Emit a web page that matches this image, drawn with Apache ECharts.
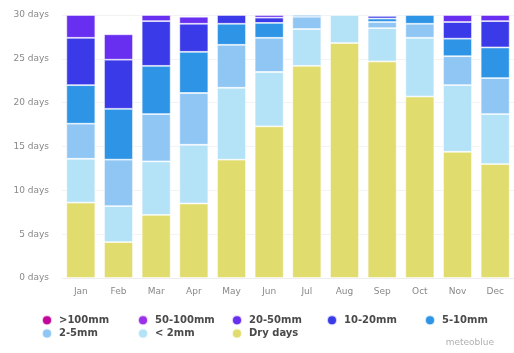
<!DOCTYPE html>
<html>
<head>
<meta charset="utf-8">
<script src="https://cdn.jsdelivr.net/npm/echarts@6/dist/echarts.min.js"></script>
<style>
  html, body { margin: 0; padding: 0; background: #ffffff; }
  #chart { width: 514px; height: 353px; }
</style>
</head>
<body>
<div id="chart"></div>
<script>
// Precipitation days per month, split by daily amount
const months = ['Jan', 'Feb', 'Mar', 'Apr', 'May', 'Jun', 'Jul', 'Aug', 'Sep', 'Oct', 'Nov', 'Dec'];

const dryDays   = [8.6, 4.1, 7.2, 8.5, 13.5, 17.3, 24.2, 26.8, 24.7, 20.7, 14.4, 13.0];
const below2mm  = [5.0, 4.1, 6.1, 6.7, 8.2, 6.2, 4.2, 3.2, 3.8, 6.7, 7.6, 5.7];
const mm2to5    = [4.0, 5.3, 5.4, 5.9, 4.9, 3.9, 1.4, 0, 0.7, 1.6, 3.3, 4.1];
const mm5to10   = [4.4, 5.8, 5.5, 4.7, 2.4, 1.7, 0.2, 0, 0.4, 1.0, 2.0, 3.5];
const mm10to20  = [5.4, 5.6, 5.1, 3.2, 1.0, 0.6, 0, 0, 0.3, 0, 1.9, 3.0];
const mm20to50  = [2.6, 2.9, 0.7, 0.8, 0, 0.3, 0, 0, 0.1, 0, 0.8, 0.7];
const mm50to100 = [0, 0, 0, 0, 0, 0, 0, 0, 0, 0, 0, 0];
const above100  = [0, 0, 0, 0, 0, 0, 0, 0, 0, 0, 0, 0];

// Stack order, bottom to top
const classes = [
  { name: 'Dry days', data: dryDays,   color: '#e1dc6e' },
  { name: '< 2mm',    data: below2mm,  color: '#b4e2f7' },
  { name: '2-5mm',    data: mm2to5,    color: '#8fc6f4' },
  { name: '5-10mm',   data: mm5to10,   color: '#2e95e6' },
  { name: '10-20mm',  data: mm10to20,  color: '#3a3ae8' },
  { name: '20-50mm',  data: mm20to50,  color: '#682ff0' },
  { name: '50-100mm', data: mm50to100, color: '#9a30e8' },
  { name: '>100mm',   data: above100,  color: '#c0089a' }
];

const font = 'DejaVu Sans';

const series = classes.map(c => ({
  name: c.name,
  type: 'bar',
  stack: 'days',
  barWidth: 29,
  data: c.data.map(v => (v === 0 ? '-' : v)),
  itemStyle: { color: c.color, borderColor: 'rgba(255,255,255,0.75)', borderWidth: 0.8 },
  emphasis: { disabled: true }
}));

// Legend laid out as a grid of columns
const legendColumns = [
  { left: 36,  data: ['>100mm', '2-5mm'] },
  { left: 132, data: ['50-100mm', '< 2mm'] },
  { left: 226, data: ['20-50mm', 'Dry days'] },
  { left: 321, data: ['10-20mm'] },
  { left: 419, data: ['5-10mm'] }
];

const legends = legendColumns.map(col => ({
  orient: 'vertical',
  left: col.left,
  top: 308.5,
  data: col.data,
  icon: 'circle',
  itemWidth: 14,
  itemHeight: 10,
  itemGap: 0,
  selectedMode: false,
  textStyle: { fontFamily: font, fontSize: 10, fontWeight: 'bold', color: '#4a4a4a', lineHeight: 13.3 }
}));

const chart = echarts.init(document.getElementById('chart'), null, { renderer: 'canvas' });
chart.setOption({
  animation: false,
  backgroundColor: '#ffffff',
  grid: { left: 62, right: -5, top: 15, bottom: 75, containLabel: false },
  legend: legends,
  xAxis: {
    type: 'category',
    data: months,
    axisTick: { show: false },
    axisLine: { show: true, lineStyle: { color: '#eeeeee' } },
    axisLabel: { fontFamily: font, fontSize: 9, color: '#888', margin: 9 }
  },
  yAxis: {
    type: 'value',
    min: 0,
    max: 30,
    interval: 5,
    axisLine: { show: false },
    axisTick: { show: false },
    splitLine: { lineStyle: { color: '#f3f3f3' } },
    axisLabel: { fontFamily: font, fontSize: 9, color: '#888', margin: 13, formatter: '{value} days' }
  },
  graphic: [{
    type: 'text',
    right: 20,
    top: 338,
    style: { text: 'meteoblue', fontFamily: font, fontSize: 9, fill: '#b0b0b0' }
  }],
  series: series
});
</script>
</body>
</html>
